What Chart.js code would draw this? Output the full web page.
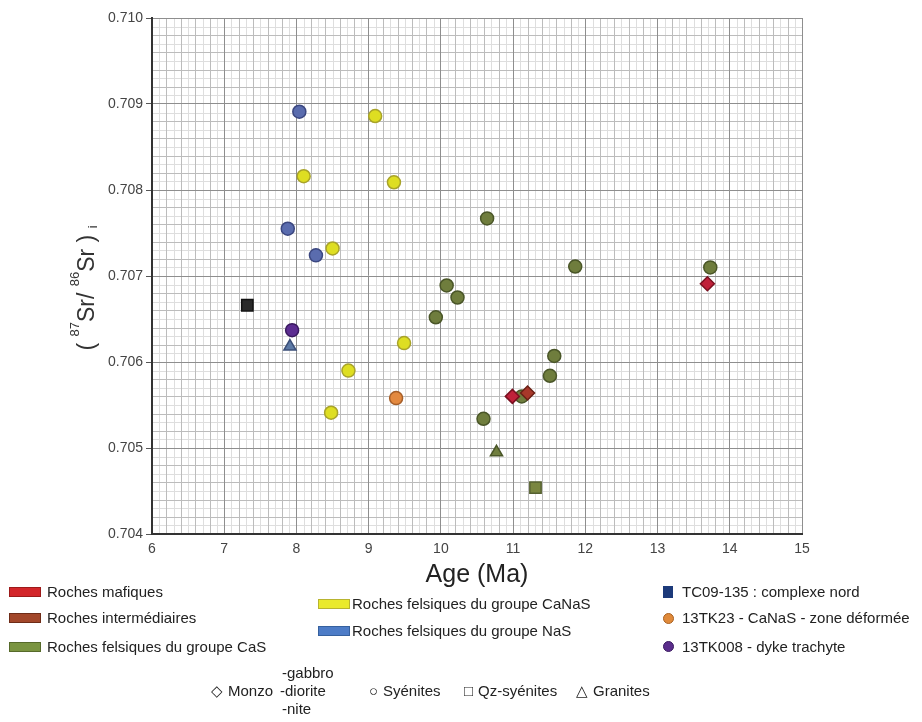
<!DOCTYPE html>
<html><head><meta charset="utf-8">
<script src="https://cdn.jsdelivr.net/npm/chart.js@4.4.1/dist/chart.umd.min.js"></script>
<style>
html,body{margin:0;padding:0;background:#fff;overflow:hidden;}
#wrap{position:relative;width:922px;height:722px;overflow:hidden;}
canvas{position:absolute;left:0;top:0;}
.lg{position:absolute;font-family:"Liberation Sans",Arial,sans-serif;font-size:15px;color:#222;white-space:nowrap;line-height:18px;}
.sw{position:absolute;width:32px;height:10px;box-sizing:border-box;}
.dot{position:absolute;width:11px;height:11px;border-radius:50%;box-sizing:border-box;}
</style></head><body>
<div id="wrap">
<canvas id="c" width="922" height="722"></canvas>

<div class="sw" style="left:9px;top:587px;background:#d3262a;border:1px solid #9c1a1a;"></div>
<div class="lg" style="left:47px;top:583px;">Roches mafiques</div>
<div class="sw" style="left:9px;top:613px;background:#a2472a;border:1px solid #6e2c18;"></div>
<div class="lg" style="left:47px;top:609px;">Roches intermédiaires</div>
<div class="sw" style="left:9px;top:642px;background:#7a9440;border:1px solid #566a2a;"></div>
<div class="lg" style="left:47px;top:638px;">Roches felsiques du groupe CaS</div>

<div class="sw" style="left:318px;top:599px;background:#eaea2c;border:1px solid #b8b430;"></div>
<div class="lg" style="left:352px;top:595px;">Roches felsiques du groupe CaNaS</div>
<div class="sw" style="left:318px;top:626px;background:#4d7cc7;border:1px solid #35609e;"></div>
<div class="lg" style="left:352px;top:622px;">Roches felsiques du groupe NaS</div>

<div style="position:absolute;left:663px;top:586px;width:10px;height:12px;background:#1c3a7a;"></div>
<div class="lg" style="left:682px;top:583px;">TC09-135 : complexe nord</div>
<div class="dot" style="left:663px;top:613px;background:#e08a3a;border:1px solid #a86020;"></div>
<div class="lg" style="left:682px;top:609px;">13TK23 - CaNaS - zone déformée</div>
<div class="dot" style="left:663px;top:641px;background:#5b2d8c;border:1px solid #3a1a60;"></div>
<div class="lg" style="left:682px;top:638px;">13TK008 - dyke trachyte</div>

<div class="lg" style="left:211px;top:682px;">◇</div>
<div class="lg" style="left:228px;top:682px;">Monzo</div>
<div class="lg" style="left:282px;top:664px;">-gabbro</div>
<div class="lg" style="left:280px;top:682px;">-diorite</div>
<div class="lg" style="left:282px;top:700px;">-nite</div>
<div class="lg" style="left:369px;top:682px;">○</div>
<div class="lg" style="left:383px;top:682px;">Syénites</div>
<div class="lg" style="left:464px;top:682px;">□</div>
<div class="lg" style="left:478px;top:682px;">Qz-syénites</div>
<div class="lg" style="left:576px;top:682px;">△</div>
<div class="lg" style="left:593px;top:682px;">Granites</div>
</div>
<script>
// ---- data (Age in Ma, (87Sr/86Sr)i) ----
const ageMafic = [10.99, 13.69];
const srMafic  = [0.70560, 0.70691];
const ageInter = [11.20];
const srInter  = [0.70564];
const ageCaS = [10.64, 11.86, 13.73, 10.08, 10.23, 9.93, 11.57, 11.51, 11.12, 10.59];
const srCaS  = [0.70767, 0.70711, 0.70710, 0.70689, 0.70675, 0.70652, 0.70607, 0.70584, 0.70560, 0.70534];
const ageCaSGranite = [10.77];
const srCaSGranite  = [0.70495];
const ageCaSQz = [11.31];
const srCaSQz  = [0.70454];
const ageCaNaS = [9.09, 8.10, 9.35, 8.50, 9.49, 8.72, 8.48];
const srCaNaS  = [0.70886, 0.70816, 0.70809, 0.70732, 0.70622, 0.70590, 0.70541];
const ageNaS = [8.04, 7.88, 8.27];
const srNaS  = [0.70891, 0.70755, 0.70724];
const ageNaSGranite = [7.91];
const srNaSGranite  = [0.70618];
const ageTK23 = [9.38];
const srTK23  = [0.70558];
const ageTK008 = [7.94];
const srTK008  = [0.70637];
const ageTC09 = [7.32];
const srTC09  = [0.70666];

const xTickLabels = ['6','7','8','9','10','11','12','13','14','15'];
const yTickLabels = ['0.704','0.705','0.706','0.707','0.708','0.709','0.710'];
const xMin = 6, xMax = 15, yMin = 0.704, yMax = 0.710;

const pts = (xs, ys) => xs.map((v, i) => ({x: v, y: ys[i]}));

function ds(label, xs, ys, style, bg, bd, r) {
  return {label, data: pts(xs, ys), pointStyle: style, backgroundColor: bg, borderColor: bd,
          pointRadius: r, pointBorderWidth: 1.5, showLine: false};
}

const minorGrid = {
  id: 'minorGrid',
  beforeDraw(chart) {
    const {ctx, chartArea: a, scales: {x, y}} = chart;
    ctx.save();
    ctx.lineWidth = 1;
    const vline = (v, c) => { const p = Math.round(x.getPixelForValue(v)) + 0.5; ctx.strokeStyle = c; ctx.beginPath(); ctx.moveTo(p, a.top); ctx.lineTo(p, a.bottom); ctx.stroke(); };
    const hline = (v, c) => { const p = Math.round(y.getPixelForValue(v)) + 0.5; ctx.strokeStyle = c; ctx.beginPath(); ctx.moveTo(a.left, p); ctx.lineTo(a.right, p); ctx.stroke(); };
    for (let i = 0; i <= 90; i++) { if (i % 2) vline(xMin + i / 10, '#dedede'); }
    for (let i = 0; i <= 60; i++) { if (i % 2) hline(yMin + i / 10000, '#dedede'); }
    for (let i = 0; i <= 45; i++) { if (i % 5) vline(xMin + i / 5, '#bcbcbc'); }
    for (let i = 0; i <= 30; i++) { if (i % 5) hline(yMin + i / 5000, '#bcbcbc'); }
    ctx.restore();
  }
};

const yTitle = {
  id: 'yTitle',
  afterDraw(chart) {
    const ctx = chart.ctx;
    ctx.save();
    ctx.translate(94, 288);
    ctx.rotate(-Math.PI / 2);
    ctx.fillStyle = '#333';
    ctx.textBaseline = 'alphabetic';
    const parts = [['( ', 23, 0], ['87', 13, -15], ['Sr/ ', 23, 0], ['86', 13, -15], ['Sr )', 23, 0], [' ', 23, 0], ['i', 13, 3]];
    const f = s => s + 'px "Liberation Sans", Arial, sans-serif';
    let total = 0;
    for (const p of parts) { ctx.font = f(p[1]); total += ctx.measureText(p[0]).width; }
    let xx = -total / 2;
    for (const p of parts) { ctx.font = f(p[1]); ctx.fillText(p[0], xx, p[2]); xx += ctx.measureText(p[0]).width; }
    ctx.restore();
  }
};

new Chart(document.getElementById('c'), {
  type: 'scatter',
  data: {
    datasets: [
      ds('Roches mafiques', ageMafic, srMafic, 'rectRot', '#c0213a', '#7a1020', 7),
      ds('Roches intermédiaires', ageInter, srInter, 'rectRot', '#a8382a', '#6a2015', 7),
      ds('TC09-135', ageTC09, srTC09, 'rect', '#2a2a2a', '#111111', 8),
      ds('13TK008', ageTK008, srTK008, 'circle', '#5c2d91', '#3a1a60', 6.5),
      ds('13TK23', ageTK23, srTK23, 'circle', '#e3893f', '#a55e28', 6.5),
      ds('CaS granite', ageCaSGranite, srCaSGranite, 'triangle', '#6f7d3d', '#4a5628', 7),
      ds('CaS Qz-syénite', ageCaSQz, srCaSQz, 'rect', '#7a8640', '#556030', 8),
      ds('CaS', ageCaS, srCaS, 'circle', '#6f7d3d', '#4a5628', 6.5),
      ds('CaNaS', ageCaNaS, srCaNaS, 'circle', '#dede22', '#a8a32a', 6.5),
      ds('NaS granite', ageNaSGranite, srNaSGranite, 'triangle', '#5d7aa6', '#3b4f78', 7),
      ds('NaS', ageNaS, srNaS, 'circle', '#5a6cae', '#3b4780', 6.5)
    ]
  },
  options: {
    responsive: false,
    animation: false,
    devicePixelRatio: 1,
    events: [],
    layout: {padding: {top: 18, right: 120, left: 0, bottom: 0}},
    plugins: {legend: {display: false}, tooltip: {enabled: false}},
    scales: {
      x: {
        type: 'linear', min: xMin, max: xMax,
        afterFit: s => { s.height = 188; },
        afterBuildTicks: s => { s.ticks = xTickLabels.map(v => ({value: Number(v)})); },
        ticks: {padding: 7, color: '#444', font: {size: 14, family: '"Liberation Sans", Arial, sans-serif'},
                callback: (v, i) => xTickLabels[i]},
        grid: {color: '#8e8e8e', lineWidth: 1, drawTicks: false},
        border: {color: '#333', width: 2},
        title: {display: true, text: 'Age (Ma)', color: '#222',
                font: {size: 25, family: '"Liberation Sans", Arial, sans-serif'},
                padding: {top: 0, bottom: 132}}
      },
      y: {
        type: 'linear', min: yMin, max: yMax,
        afterFit: s => { s.width = 152; },
        afterBuildTicks: s => { s.ticks = yTickLabels.map(v => ({value: Number(v)})); },
        ticks: {padding: 3, color: '#444', font: {size: 14, family: '"Liberation Sans", Arial, sans-serif'},
                callback: (v, i) => yTickLabels[i]},
        grid: {color: '#8e8e8e', lineWidth: 1, drawTicks: true, tickLength: 6, tickColor: '#555'},
        border: {color: '#333', width: 2}
      }
    }
  },
  plugins: [minorGrid, yTitle]
});
</script>
</body></html>
